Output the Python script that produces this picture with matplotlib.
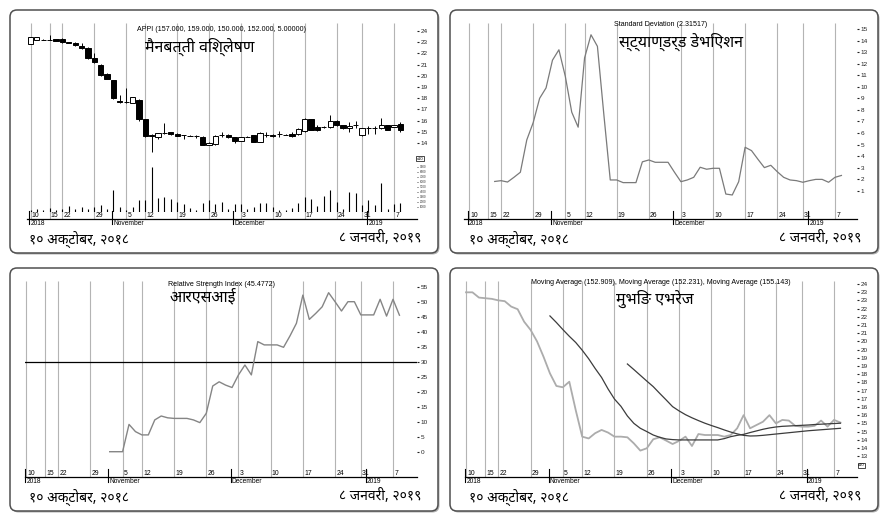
import matplotlib
matplotlib.use('Agg')
import matplotlib.pyplot as plt
from matplotlib.patches import FancyBboxPatch
from matplotlib.transforms import blended_transform_factory, offset_copy
import numpy as np

plt.rcParams['font.family'] = ['Liberation Sans', 'Noto Sans', 'DejaVu Sans']
DEVA = ['Noto Sans', 'DejaVu Sans']

# trading days shown on the date axis
dates = ['2018-10-10', '2018-10-11', '2018-10-14', '2018-10-15', '2018-10-21', '2018-10-22',
         '2018-10-23', '2018-10-24', '2018-10-25', '2018-10-28', '2018-10-29', '2018-10-30',
         '2018-10-31', '2018-11-01', '2018-11-04', '2018-11-05', '2018-11-06', '2018-11-11',
         '2018-11-12', '2018-11-13', '2018-11-14', '2018-11-15', '2018-11-18', '2018-11-19',
         '2018-11-20', '2018-11-21', '2018-11-22', '2018-11-25', '2018-11-26', '2018-11-27',
         '2018-11-28', '2018-11-29', '2018-12-02', '2018-12-03', '2018-12-04', '2018-12-05',
         '2018-12-06', '2018-12-09', '2018-12-10', '2018-12-11', '2018-12-12', '2018-12-13',
         '2018-12-16', '2018-12-17', '2018-12-18', '2018-12-19', '2018-12-20', '2018-12-23',
         '2018-12-24', '2018-12-26', '2018-12-27', '2018-12-30', '2018-12-31', '2019-01-01',
         '2019-01-02', '2019-01-03', '2019-01-06', '2019-01-07', '2019-01-08']
week_marks = ['2018-10-10', '2018-10-15', '2018-10-22', '2018-10-29', '2018-11-05', '2018-11-12',
              '2018-11-19', '2018-11-26', '2018-12-03', '2018-12-10', '2018-12-17', '2018-12-24',
              '2018-12-31', '2019-01-07']
month_marks = ['2018-10-10', '2018-11-01', '2018-12-02', '2019-01-01']
month_names = ['2018', 'November', 'December', '2019']

# candles (axis units, x10 = price)
opens = [22.84, 23.2, 23.2, 23.2, 23.25, 23.3, 23.0, 22.95, 22.7, 22.5, 21.6, 21.0, 20.2, 19.6,
         17.75, 17.65, 17.6, 17.8, 16.1, 14.7, 14.5, 14.85, 14.95, 14.8, 14.7, 14.65, 14.65, 14.55,
         13.85, 13.95, 14.7, 14.75, 14.5, 14.2, 14.55, 14.7, 14.1, 14.75, 14.75, 14.8, 14.75, 14.8,
         14.8, 15.05, 16.1, 15.4, 15.4, 15.4, 16.0, 15.6, 15.3, 15.6, 14.7, 15.3, 15.3, 15.3, 15.6,
         15.45, 15.7]
closes = [23.49, 23.49, 23.2, 23.2, 23.15, 23.0, 22.95, 22.75, 22.5, 21.55, 21.2, 20.1, 19.75, 18.0,
          17.7, 17.65, 18.1, 16.1, 14.6, 14.6, 14.85, 14.85, 14.8, 14.65, 14.7, 14.65, 14.6, 13.85,
          14.0, 14.65, 14.7, 14.5, 14.2, 14.5, 14.55, 14.1, 14.9, 14.75, 14.6, 14.8, 14.75, 14.65,
          15.25, 16.1, 15.2, 15.2, 15.4, 16.0, 15.6, 15.3, 15.55, 15.6, 15.3, 15.3, 15.3, 15.6, 15.2,
          15.6, 15.2]
highs = [23.49, 23.49, 23.25, 23.6, 23.3, 23.35, 23.05, 23.0, 22.9, 22.55, 22.0, 21.05, 20.25, 19.65,
         18.3, 18.9, 18.15, 17.9, 16.15, 14.8, 14.9, 15.8, 15.0, 14.85, 14.75, 14.7, 14.75, 14.6,
         14.05, 14.75, 15.0, 14.8, 14.55, 14.55, 14.6, 14.75, 15.0, 15.0, 14.8, 15.1, 14.8, 14.95,
         15.3, 16.2, 16.15, 15.65, 15.5, 16.5, 16.05, 15.65, 15.9, 16.0, 15.35, 15.5, 15.5, 16.2,
         15.65, 15.65, 15.9]
lows = [22.84, 23.2, 23.2, 23.2, 23.1, 22.95, 22.9, 22.7, 22.35, 21.5, 21.1, 20.0, 19.7, 17.9,
        17.6, 17.6, 17.6, 16.0, 14.55, 13.2, 14.4, 14.8, 14.75, 14.6, 14.4, 14.6, 14.45, 13.8,
        13.8, 13.85, 14.5, 14.45, 14.0, 14.15, 14.5, 14.05, 14.05, 14.5, 14.55, 14.5, 14.7, 14.5,
        14.75, 15.0, 15.15, 15.05, 15.35, 15.35, 15.55, 15.25, 15.0, 15.3, 14.65, 14.8, 14.8,
        15.25, 15.15, 15.4, 15.0]
volume = [2.3, 3.3, 2.3, 4.3, 1.7, 3.3, 5.7, 3.3, 5.0, 3.3, 5.0, 6.7, 3.3, 22.3, 5.0, 1.7, 5.0,
          11.7, 11.7, 45.0, 14.3, 15.0, 13.3, 10.0, 7.7, 4.3, 2.3, 9.0, 11.7, 7.7, 10.0, 3.3, 8.3,
          8.3, 3.3, 5.0, 9.0, 9.0, 5.0, 2.3, 2.3, 4.3, 9.0, 15.0, 13.3, 5.7, 15.7, 22.3, 10.0, 3.0,
          20.0, 19.0, 6.7, 11.7, 6.7, 29.0, 3.3, 7.7, 9.0]

sd_start = '2018-10-21'
std_dev = [1.8, 1.87, 1.75, 2.16, 2.6, 5.4, 6.9, 9.0, 9.9, 12.3, 13.2, 10.9, 7.8, 6.5, 12.5, 14.5,
           13.5, 7.6, 1.93, 1.93, 1.7, 1.7, 1.7, 3.5, 3.66, 3.46, 3.46, 3.46, 2.6, 1.78, 1.93, 2.16,
           3.03, 2.86, 2.94, 2.94, 0.71, 0.63, 1.78, 4.76, 4.47, 3.72, 3.0, 3.2, 2.65, 2.16, 1.93,
           1.87, 1.73, 1.87, 1.98, 1.98, 1.73, 2.16, 2.32]

rsi_start = '2018-11-01'
rsi = [0, 0, 0, 9.1, 6.7, 5.6, 5.6, 10.6, 11.9, 11.3, 11.1, 11.1, 11.1, 10.6, 9.7, 12.8, 21.9, 23.3,
       22.2, 21.4, 25.6, 28.9, 25.6, 36.7, 35.6, 35.6, 35.6, 34.8, 38.6, 42.8, 52.2, 44.1, 46.1,
       48.3, 53.0, 50.0, 46.9, 50.0, 50.0, 45.6, 45.6, 45.6, 50.8, 45.2, 50.8, 45.5]
rsi_level = 30

ma_fast = [23.49, 23.49, 23.17, 23.13, 23.09, 23.0, 22.95, 22.62, 22.46, 21.7, 21.2, 20.5, 19.57,
           18.55, 17.78, 17.7, 18.04, 16.3, 14.69, 14.58, 14.9, 15.1, 14.94, 14.69, 14.69, 14.65,
           14.28, 13.84, 13.98, 14.53, 14.65, 14.45, 14.24, 14.43, 14.69, 14.12, 14.85, 14.79,
           14.79, 14.79, 14.69, 14.79, 15.2, 16.0, 15.2, 15.4, 15.6, 16.0, 15.5, 15.71, 15.67,
           15.35, 15.3, 15.3, 15.35, 15.67, 15.3, 15.71, 15.55]
ma_mid_start = '2018-11-01'
ma_mid = [22.05, 21.65, 21.22, 20.81, 20.43, 19.96, 19.44, 18.85, 18.3, 17.6, 16.98, 16.54, 15.95,
          15.5, 15.2, 15.0, 14.79, 14.65, 14.55, 14.51, 14.49, 14.49, 14.49, 14.49, 14.49, 14.49,
          14.49, 14.57, 14.69, 14.77, 14.83, 14.94, 15.04, 15.14, 15.22, 15.28, 15.32, 15.34,
          15.36, 15.38, 15.4, 15.43, 15.45, 15.47, 15.49, 15.51]
ma_slow_start = '2018-11-21'
ma_slow = [19.12, 18.78, 18.43, 18.08, 17.74, 17.33, 16.93, 16.52, 16.26, 16.03, 15.84, 15.67,
           15.51, 15.37, 15.24, 15.1, 14.97, 14.86, 14.77, 14.73, 14.74, 14.77, 14.81, 14.85,
           14.89, 14.93, 14.97, 15.01, 15.05, 15.08, 15.11, 15.14, 15.17, 15.2]

headers = ['APPI (157.000, 159.000, 150.000, 152.000, 5.00000)',
           'Standard Deviation (2.31517)',
           'Relative Strength Index (45.4772)',
           'Moving Average (152.909), Moving Average (152.231), Moving Average (155.143)']
titles = ['मैनबत्ती विश्लेषण', 'स्ट्याण्डर्ड डेभिएशन', 'आरएसआई', 'मुभिङ एभरेज']
date_from = '१० अक्टोबर, २०१८'
date_to = '८ जनवरी, २०१९'

W, H = 888, 519
fig = plt.figure(figsize=(W / 100, H / 100), dpi=100)
fig.patch.set_facecolor('white')


def rect(x0, y0, x1, y1):
    return [x0 / W, 1 - y1 / H, (x1 - x0) / W, (y1 - y0) / H]


def ftext(x, y, s, **kw):
    return fig.text(x / W, 1 - y / H, s, **kw)


def idx(d):
    return dates.index(d)


def make_panel(k, dx, dy, g0, g57, left, right, ylim):
    # frame
    sh = FancyBboxPatch(((dx + 11.5) / 100, (H - dy - 254.5) / 100), 428 / 100, 243 / 100,
                        boxstyle='round,pad=0,rounding_size=0.07', transform=fig.dpi_scale_trans,
                        fc='#b0b0b0', ec='none', zorder=-11)
    fig.add_artist(sh)
    bx = FancyBboxPatch(((dx + 10) / 100, (H - dy - 253) / 100), 428 / 100, 243 / 100,
                        boxstyle='round,pad=0,rounding_size=0.07', transform=fig.dpi_scale_trans,
                        fc='white', ec='#505050', lw=1.1, zorder=-10)
    fig.add_artist(bx)

    ax = fig.add_axes(rect(dx + left, dy + 23, dx + right, dy + 219))
    ax.set_facecolor('none')
    s = (g57 - g0) / 57
    ax.set_xlim((left - g0) / s, (right - g0) / s)
    ax.set_ylim(*ylim)
    for sp in ['left', 'top', 'right']:
        ax.spines[sp].set_visible(False)
    ax.spines['bottom'].set_linewidth(0.9)
    ax.spines['bottom'].set_color('black')
    ax.set_xticks([])
    ax.yaxis.tick_right()
    ax.tick_params(axis='y', length=1.3, width=0.8, pad=1.2, labelsize=4.6, colors='#222222')

    tr = blended_transform_factory(ax.transData, ax.transAxes)
    wk = [idx(d) for d in week_marks]
    ax.vlines(wk, 0, 1, transform=tr, color='#b4b4b4', lw=0.8, zorder=0)
    lab_tr = offset_copy(tr, fig=fig, x=1.2, y=1.6, units='dots')
    for d in week_marks:
        ax.text(idx(d), 0, str(int(d[-2:])), transform=lab_tr, fontsize=4.9,
                va='baseline', ha='left')
    xl = ax.get_xlim()
    for m, name in zip(month_marks, month_names):
        mx = max(idx(m) - 0.2, xl[0] + 0.02)
        ax.plot([mx, mx], [-5 / 196, 8 / 196], transform=tr, color='black', lw=0.8,
                clip_on=False)
        ax.text(mx, 0, name, transform=offset_copy(tr, fig=fig, x=1.2, y=-1.2, units='dots'),
                fontsize=4.8, va='top', ha='left')

    ftext(dx + 221, dy + [29.3, 25, 26, 25][k], headers[k], fontsize=5.1, ha='center',
          va='center')
    tx = [145, 179, 170, 176][k]
    ty = [47, 42, 39, 41][k]
    ftext(dx + tx, dy + ty, titles[k], family=DEVA, fontsize=11.5, ha='left', va='center')
    ftext(dx + 29, dy + 239, date_from, family=DEVA, fontsize=10, ha='left', va='center')
    ftext(dx + 421, dy + 239, date_to, family=DEVA, fontsize=10, ha='right', va='center')
    return ax


def x10_box(x, y):
    ftext(x, y, 'x10', fontsize=3.0, ha='center', va='center',
          bbox=dict(boxstyle='square,pad=0.12', fc='white', ec='black', lw=0.5))


# panel 1: candles + volume
ax1 = make_panel(0, 0, 0, 30.5, 394, 27, 417, (7.214, 24.714))
xi = np.arange(len(dates))
o = np.array(opens); c = np.array(closes)
ax1.vlines(xi, lows, highs, color='black', lw=0.7, zorder=2)
up = c >= o
ax1.bar(xi[up], (c - o)[up], bottom=o[up], width=0.82, color='white', edgecolor='black',
        lw=0.7, zorder=3)
ax1.bar(xi[~up], (o - c)[~up], bottom=c[~up], width=0.82, color='black', edgecolor='black',
        lw=0.7, zorder=3)
ax1.set_yticks(range(14, 25))
x10_box(420, 158.5)

axv = fig.add_axes(rect(27, 160, 417, 212))
axv.set_facecolor('none')
axv.set_xlim(ax1.get_xlim())
axv.set_ylim(0, 52)
for sp in axv.spines.values():
    sp.set_visible(False)
axv.set_xticks([])
axv.vlines(xi, 0, volume, color='black', lw=0.8)
axv.yaxis.tick_right()
axv.set_yticks(range(5, 50, 5))
axv.set_yticklabels([f'{v * 200:.0f}' for v in range(5, 50, 5)])
axv.tick_params(axis='y', length=1.0, width=0.6, pad=1.2, labelsize=2.2, colors='#333333')

# panel 2: standard deviation
ax2 = make_panel(1, 440, 0, 29, 395, 24, 417, (-1.45, 15.52))
s0 = idx(sd_start)
ax2.plot(np.arange(s0, s0 + len(std_dev)), std_dev, color='#7a7a7a', lw=0.9)
ax2.set_yticks(range(1, 16))

# panel 3: RSI
ax3 = make_panel(2, 0, 258, 26, 393, 25, 417, (-8.43, 56.9))
r0 = idx(rsi_start)
ax3.axhline(rsi_level, color='black', lw=0.9)
ax3.plot(np.arange(r0, r0 + len(rsi)), rsi, color='#858585', lw=1.0)
ax3.set_yticks(range(0, 56, 5))

# panel 4: moving averages
ax4 = make_panel(3, 440, 258, 26, 394, 25, 417, (12.23, 24.18))
ax4.plot(xi, ma_fast, color='#acacac', lw=1.3)
m0 = idx(ma_mid_start)
ax4.plot(np.arange(m0, m0 + len(ma_mid)), ma_mid, color='#3c3c3c', lw=0.9)
m1 = idx(ma_slow_start)
ax4.plot(np.arange(m1, m1 + len(ma_slow)), ma_slow, color='#3c3c3c', lw=0.9)
yt = np.arange(13.5, 24.01, 0.5)
ax4.set_yticks(yt)
ax4.set_yticklabels([str(int(np.floor(v))) for v in yt])
x10_box(861.5, 465)

fig.savefig('out.png', dpi=100)
